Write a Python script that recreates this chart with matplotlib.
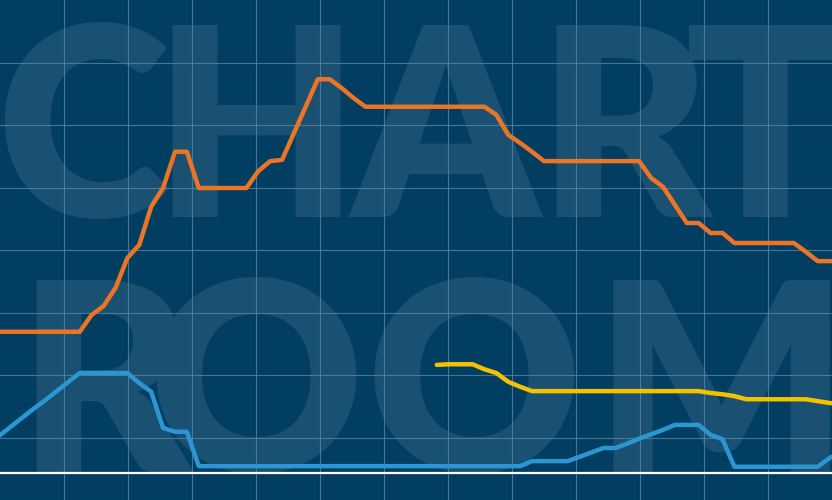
import matplotlib.pyplot as plt
import numpy as np

# data, one value per week. no axis labels are shown on the chart
weeks = np.arange(72)

orange = [22.6, 22.6, 22.6, 22.6, 22.6, 22.6, 22.6, 22.6, 25.3, 26.7,
          29.6, 34.4, 36.5, 42.6, 45.6, 51.4, 51.4, 45.6, 45.6, 45.6,
          45.6, 45.6, 48.3, 49.9, 50.1, 54.4, 58.7, 63.0, 63.0, 61.6,
          60.0, 58.6, 58.6, 58.6, 58.6, 58.6, 58.6, 58.6, 58.6, 58.6,
          58.6, 58.6, 57.3, 54.1, 52.8, 51.4, 49.9, 49.9, 49.9, 49.9,
          49.9, 49.9, 49.9, 49.9, 49.9, 47.2, 45.8, 42.9, 40.0, 40.0,
          38.4, 38.4, 36.8, 36.8, 36.8, 36.8, 36.8, 36.8, 35.4, 33.9,
          33.9, 33.9]

blue = [5.6, 7.1, 8.6, 10.1, 11.5, 13.0, 14.5, 16.0, 16.0, 16.0,
        16.0, 16.0, 14.4, 13.0, 7.2, 6.6, 6.6, 1.1, 1.1, 1.1,
        1.1, 1.1, 1.1, 1.1, 1.1, 1.1, 1.1, 1.1, 1.1, 1.1,
        1.1, 1.1, 1.1, 1.1, 1.1, 1.1, 1.1, 1.1, 1.1, 1.1,
        1.1, 1.1, 1.1, 1.1, 1.1, 1.9, 1.9, 1.9, 1.9, 2.6,
        3.3, 4.0, 4.0, 4.7, 5.5, 6.2, 6.9, 7.7, 7.7, 7.7,
        6.1, 5.4, 1.0, 1.0, 1.0, 1.0, 1.0, 1.0, 1.0, 1.0,
        2.4, 3.4]

nan = np.nan
# yellow series only starts at week 37
yellow = [nan, nan, nan, nan, nan, nan, nan, nan, nan, nan,
          nan, nan, nan, nan, nan, nan, nan, nan, nan, nan,
          nan, nan, nan, nan, nan, nan, nan, nan, nan, nan,
          nan, nan, nan, nan, nan, nan, nan, 17.3, 17.4, 17.4,
          17.4, 16.6, 16.0, 14.6, 13.8, 13.1, 13.1, 13.1, 13.1, 13.1,
          13.1, 13.1, 13.1, 13.1, 13.1, 13.1, 13.1, 13.1, 13.1, 13.1,
          12.8, 12.6, 12.3, 11.8, 11.8, 11.8, 11.8, 11.8, 11.8, 11.5,
          11.2, 11.0]

# colours
bg = '#023e62'
mark = '#1a5172'
gridc = '#5a84a3'

fig = plt.figure(figsize=(8.32, 5), dpi=100)
fig.patch.set_facecolor(bg)

# background layer: watermark letters and the grid, in pixel units
back = fig.add_axes([0, 0, 1, 1])
back.set_facecolor(bg)
back.set_xlim(0, 832)
back.set_ylim(500, 0)
back.set_xticks(np.arange(64, 832, 64))
back.set_yticks(np.arange(62.5, 500, 62.5))
back.tick_params(length=0, labelbottom=False, labelleft=False)
back.grid(True, color=gridc, lw=0.8, alpha=0.8)
for s in back.spines.values():
    s.set_visible(False)

# letter, centre x, baseline y
letters = [('C', 83, 217), ('H', 256, 217), ('A', 445, 217),
           ('R', 624, 217), ('T', 765, 217),
           ('R', 104, 472), ('O', 256, 472), ('O', 474, 472),
           ('M', 721, 472)]
for ch, x, y in letters:
    back.text(x, y, ch, fontsize=190, family='Lato', weight='heavy',
              color=mark, ha='center', va='baseline', zorder=0.2)

# data layer
ax = fig.add_axes([0, 0, 1, 1])
ax.patch.set_alpha(0)
ax.set_xlim(0.3, 70.2)
ax.set_ylim(-4.32, 75.68)
ax.axis('off')

ax.axhline(0, color='white', lw=1.6)
ax.plot(weeks, orange, color='#ec7424', lw=3.2, solid_joinstyle='round')
ax.plot(weeks, blue, color='#2a97d2', lw=3.2, solid_joinstyle='round')
ax.plot(weeks, yellow, color='#f6c200', lw=3.2, solid_joinstyle='round',
        solid_capstyle='round')

plt.savefig('out.png', dpi=100, facecolor=bg)
